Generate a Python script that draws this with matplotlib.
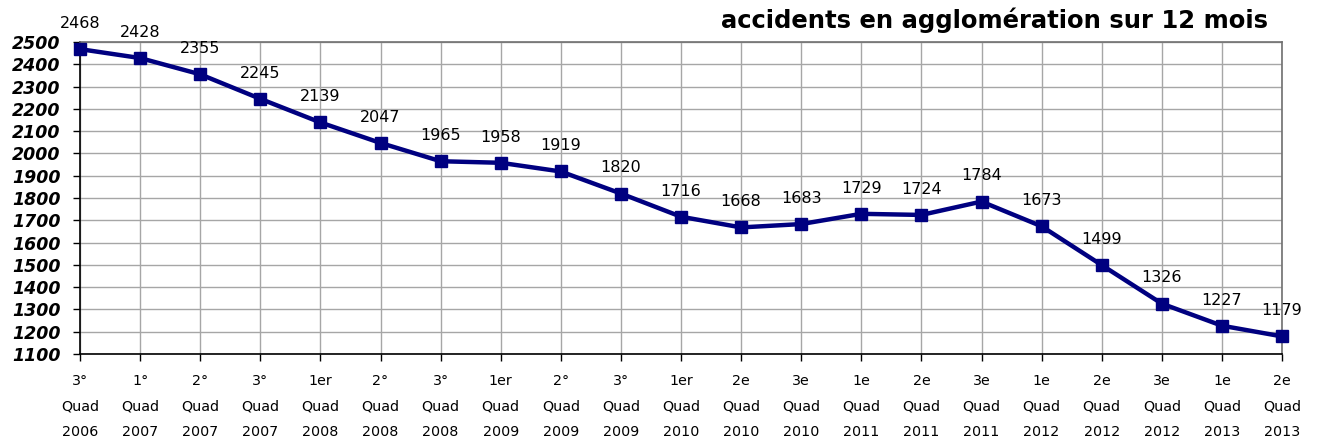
import matplotlib
matplotlib.use("Agg")
import matplotlib.pyplot as plt

values = [2468, 2428, 2355, 2245, 2139, 2047, 1965, 1958, 1919, 1820, 1716,
          1668, 1683, 1729, 1724, 1784, 1673, 1499, 1326, 1227, 1179]
quarters = ["3°", "1°", "2°", "3°", "1er", "2°", "3°", "1er", "2°", "3°", "1er",
            "2e", "3e", "1e", "2e", "3e", "1e", "2e", "3e", "1e", "2e"]
years = ["2006", "2007", "2007", "2007", "2008", "2008", "2008", "2009", "2009", "2009", "2010",
         "2010", "2010", "2011", "2011", "2011", "2012", "2012", "2012", "2013", "2013"]
title = "accidents en agglomération sur 12 mois"
yticks = list(range(1100, 2501, 100))

plt.rcParams['font.family'] = ['DejaVu Sans']

fig = plt.figure(figsize=(13.18, 4.41), dpi=100)
ax = fig.add_axes([80/1318, 1-354/441, (1282-80)/1318, (354-42)/441])

x = list(range(len(values)))
ax.plot(x, values, color="#000080", lw=3.2, marker="s", markersize=9,
        clip_on=False, zorder=5)

for xi, v in zip(x, values):
    ax.annotate(str(v), (xi, v), xytext=(0, 18.5), textcoords="offset points",
                ha="center", va="center", fontsize=11.5, color="black", zorder=6)

ax.set_xlim(0, len(values) - 1)
ax.set_ylim(1100, 2500)
ax.set_yticks(yticks)
ax.set_yticklabels([str(t) for t in yticks], fontsize=12.5, fontweight="bold",
                   fontstyle="italic")
ax.set_xticks(x)
ax.set_xticklabels([f"{q}\nQuad\n{y}" for q, y in zip(quarters, years)],
                   fontsize=10.3, linespacing=2.05)

ax.grid(True, color="#a6a6a6", lw=1)
ax.set_axisbelow(True)
ax.tick_params(axis="y", direction="out", length=5, width=1, pad=9, color="black")
ax.tick_params(axis="x", direction="out", length=5, width=1, pad=9.5, color="black")

for s in ["left", "bottom"]:
    ax.spines[s].set_color("black")
    ax.spines[s].set_linewidth(1.2)
for s in ["top", "right"]:
    ax.spines[s].set_color("#707070")
    ax.spines[s].set_linewidth(1.2)

fig.text(1268/1318, 1-20/441, title, ha="right", va="center", fontsize=17.5,
         fontweight="bold")

fig.savefig("out.png", dpi=100)
